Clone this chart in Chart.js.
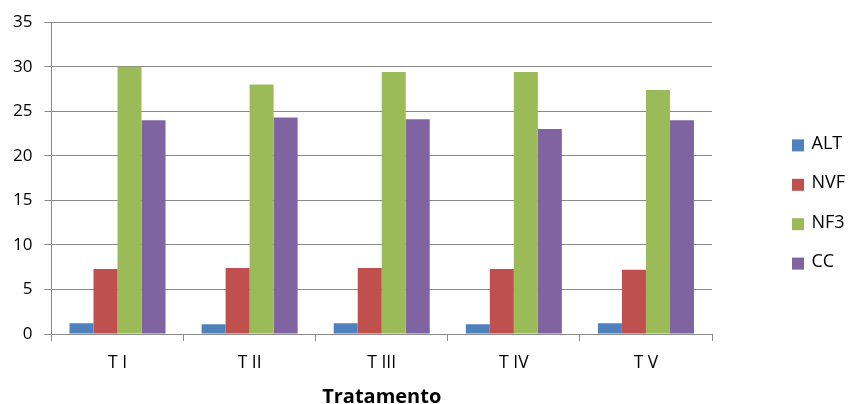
<!DOCTYPE html>
<html>
<head>
<meta charset="utf-8">
<script src="https://cdn.jsdelivr.net/npm/chart.js@4/dist/chart.umd.min.js"></script>
<style>
  html, body { margin: 0; padding: 0; background: #ffffff; }
  #wrap { width: 849px; height: 404px; }
</style>
</head>
<body>
<div id="wrap"><canvas id="chart" width="849" height="404"></canvas></div>
<script>
// Treatments on the x axis
const categories = ['T I', 'T II', 'T III', 'T IV', 'T V'];

// Measured variables per treatment
const altValues = [1.2, 1.1, 1.2, 1.1, 1.2];
const nvfValues = [7.3, 7.4, 7.4, 7.3, 7.2];
const nf3Values = [30.0, 28.0, 29.4, 29.4, 27.4];
const ccValues  = [24.0, 24.3, 24.1, 23.0, 24.0];

const seriesNames = ['ALT', 'NVF', 'NF3', 'CC'];
const seriesColors = ['#4F81BD', '#C0504D', '#9BBB59', '#8064A2'];

const yTicks = [0, 5, 10, 15, 20, 25, 30, 35];
const axisTitle = 'Tratamento';

const FONT = "'Open Sans', 'Liberation Sans', sans-serif";
const GRID = '#8a8a8a';

const seriesValues = [altValues, nvfValues, nf3Values, ccValues];

// Vertical legend drawn in the space kept free on the right of the plot
const sideLegend = {
  id: 'sideLegend',
  afterDraw(chart) {
    const ctx = chart.ctx;
    const area = chart.chartArea;
    const box = 12;
    const step = 39.4;
    const n = chart.data.datasets.length;
    const midY = chart.height / 2 + 2.5;
    const x0 = area.right + 80;
    ctx.save();
    ctx.font = `18px ${FONT}`;
    ctx.textBaseline = 'middle';
    ctx.textAlign = 'left';
    chart.data.datasets.forEach((ds, i) => {
      const cy = midY + (i - (n - 1) / 2) * step;
      ctx.fillStyle = ds.backgroundColor;
      ctx.fillRect(x0, cy - box / 2, box, box);
      ctx.fillStyle = '#000';
      ctx.fillText(ds.label, x0 + box + 7.5, cy - 1.5);
    });
    ctx.restore();
  }
};

new Chart(document.getElementById('chart'), {
  type: 'bar',
  data: {
    labels: categories,
    datasets: seriesNames.map((name, i) => ({
      label: name,
      data: seriesValues[i],
      backgroundColor: seriesColors[i],
      borderWidth: 0,
      categoryPercentage: 0.727,
      barPercentage: 1.0
    }))
  },
  options: {
    responsive: false,
    animation: false,
    devicePixelRatio: 1,
    layout: { padding: { left: 1, right: 137, top: 1, bottom: 0 } },
    plugins: {
      tooltip: { enabled: false },
      legend: { display: false }
    },
    scales: {
      x: {
        grid: {
          display: true,
          drawOnChartArea: false,
          drawTicks: true,
          tickLength: 7,
          color: GRID,
          lineWidth: 1
        },
        border: { display: true, color: GRID, width: 1 },
        ticks: {
          color: '#000',
          padding: 12,
          font: { family: FONT, size: 17.5 }
        },
        title: {
          display: true,
          text: axisTitle,
          color: '#000',
          padding: { top: 1, bottom: -3 },
          font: { family: FONT, size: 20, weight: 'bold', lineHeight: 1.0 }
        }
      },
      y: {
        min: 0,
        max: 35,
        afterBuildTicks: (axis) => { axis.ticks = yTicks.map(v => ({ value: v })); },
        grid: {
          color: GRID,
          lineWidth: 1,
          drawTicks: true,
          tickLength: 7
        },
        border: { display: true, color: GRID, width: 1 },
        ticks: {
          color: '#000',
          padding: 12,
          font: { family: FONT, size: 17 }
        }
      }
    }
  },
  plugins: [sideLegend]
});
</script>
</body>
</html>
